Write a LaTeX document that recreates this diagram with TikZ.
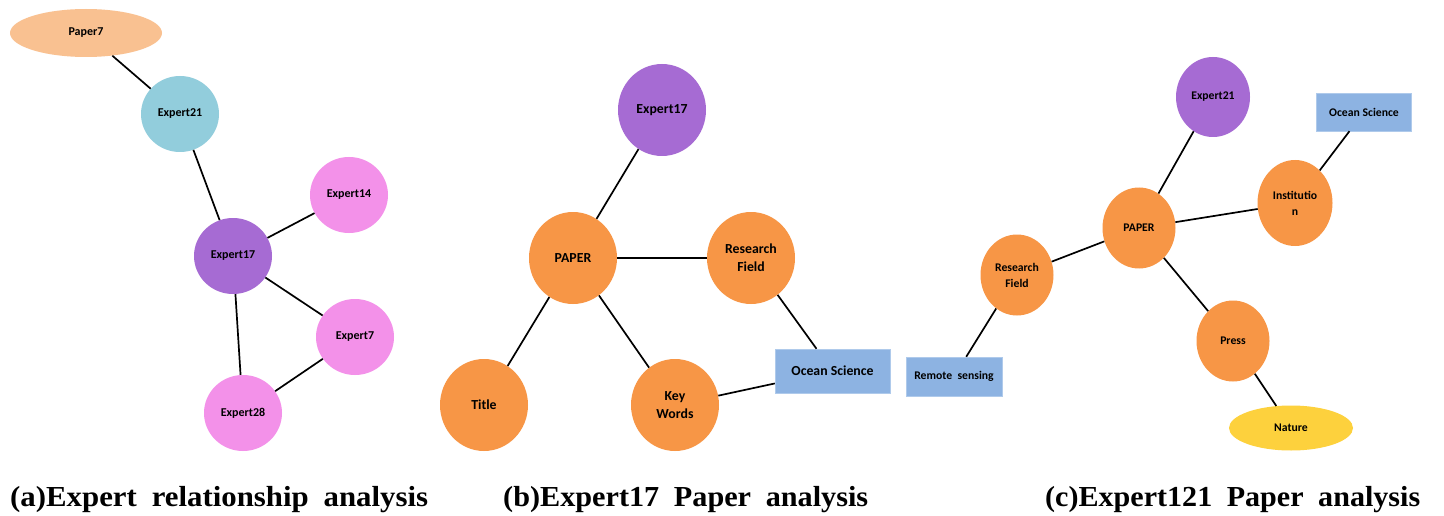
\documentclass[tikz,border=0pt]{standalone}
\usepackage{fontspec}
\usepackage{graphicx}
\setmainfont{Carlito}
\newfontfamily\capfont{Liberation Serif}
\usetikzlibrary{shapes.geometric}
\definecolor{cPaperA}{HTML}{F9C191}
\definecolor{cCyan}{HTML}{92CDDC}
\definecolor{cPink}{HTML}{F391E9}
\definecolor{cPurple}{HTML}{A66BD3}
\definecolor{cOrange}{HTML}{F79646}
\definecolor{cBlue}{HTML}{8DB3E2}
\definecolor{cYellow}{HTML}{FDD13D}
\newcommand{\wsp}{\hspace{14pt}}
\begin{document}
\begin{tikzpicture}[x=1pt,y=-1pt,
  nd/.style={ellipse, inner sep=0pt, align=center, text=black},
  fa/.style={font=\bfseries\fontsize{12}{14}\selectfont},
  fb/.style={font=\bfseries\fontsize{13.8}{18}\selectfont},
  fc/.style={font=\bfseries\fontsize{11.7}{16}\selectfont},
  bx/.style={rectangle, inner sep=0pt, fill=cBlue, draw=cBlue!70!white, align=center, text=black},
  ed/.style={line width=1.7pt, black},
  captxt/.style={anchor=base west, inner sep=0pt, font=\capfont\bfseries\fontsize{29}{32}\selectfont}]
\useasboundingbox[fill=white] (0,0) rectangle (1444,516);
% ---------- panel (a)
\node[nd,fa,fill=cPaperA,minimum width=152,minimum height=48] (p7) at (86,33) {Paper7};
\node[nd,fa,fill=cCyan,minimum width=78,minimum height=76] (e21) at (180,114) {Expert21};
\node[nd,fa,fill=cPink,minimum width=78,minimum height=76] (e14) at (349,195) {Expert14};
\node[nd,fa,fill=cPurple,minimum width=78,minimum height=76] (e17) at (233,256) {Expert17};
\node[nd,fa,fill=cPink,minimum width=78,minimum height=76] (e7) at (355,337) {Expert7};
\node[nd,fa,fill=cPink,minimum width=78,minimum height=76] (e28) at (243,413) {Expert28};
\draw[ed] (p7) -- (e21);
\draw[ed] (e21) -- (e17);
\draw[ed] (e17) -- (e14);
\draw[ed] (e17) -- (e7);
\draw[ed] (e17) -- (e28);
\draw[ed] (e7) -- (e28);
% ---------- panel (b)
\node[nd,fb,fill=cPurple,minimum width=88,minimum height=92] (b17) at (662,110) {Expert17};
\node[nd,fb,fill=cOrange,minimum width=88,minimum height=92] (bp) at (573,258) {PAPER};
\node[nd,fb,fill=cOrange,minimum width=88,minimum height=92] (brf) at (751,258) {Research\\Field};
\node[nd,fb,fill=cOrange,minimum width=88,minimum height=92] (bt) at (484,405) {Title};
\node[nd,fb,fill=cOrange,minimum width=88,minimum height=92] (bkw) at (675,405) {Key\\Words};
\node[bx,fb,minimum width=115,minimum height=44] (bos) at (832.5,371) {Ocean Science};
\draw[ed] (b17) -- (bp);
\draw[ed] (bp) -- (brf);
\draw[ed] (bp) -- (bt);
\draw[ed] (bp) -- (bkw);
\draw[ed] (brf) -- (bos);
\draw[ed] (bkw) -- (bos);
% ---------- panel (c)
\node[nd,fc,fill=cPurple,minimum width=74,minimum height=80] (c21) at (1213,97) {Expert21};
\node[bx,fc,minimum width=95,minimum height=38] (cos) at (1364,112) {Ocean Science};
\node[nd,fc,fill=cOrange,minimum width=75,minimum height=86] (cin) at (1295,203) {Institutio\\n};
\node[nd,fc,fill=cOrange,minimum width=73,minimum height=81] (cp) at (1139,228) {PAPER};
\node[nd,fc,fill=cOrange,minimum width=73,minimum height=81] (crf) at (1017,275) {Research\\Field};
\node[bx,fc,minimum width=96,minimum height=39] (crs) at (954,376.5) {Remote\ \ sensing};
\node[nd,fc,fill=cOrange,minimum width=73,minimum height=81] (cpr) at (1233,341) {Press};
\node[nd,fc,fill=cYellow,minimum width=124,minimum height=45] (cna) at (1291,428) {Nature};
\draw[ed] (cp) -- (c21);
\draw[ed] (cp) -- (cin);
\draw[ed] (cin) -- (cos);
\draw[ed] (cp) -- (crf);
\draw[ed] (crf) -- (crs);
\draw[ed] (cp) -- (cpr);
\draw[ed] (cpr) -- (cna);
% ---------- captions
\node[captxt] (capa) at (10,506) {\resizebox{418pt}{\height}{(a)Expert\wsp relationship\wsp analysis}};
\node[captxt] (capb) at (503,506) {\resizebox{365pt}{\height}{(b)Expert17\wsp Paper\wsp analysis}};
\node[captxt] (capc) at (1045,506) {\resizebox{375pt}{\height}{(c)Expert121\wsp Paper\wsp analysis}};
\end{tikzpicture}
\end{document}
